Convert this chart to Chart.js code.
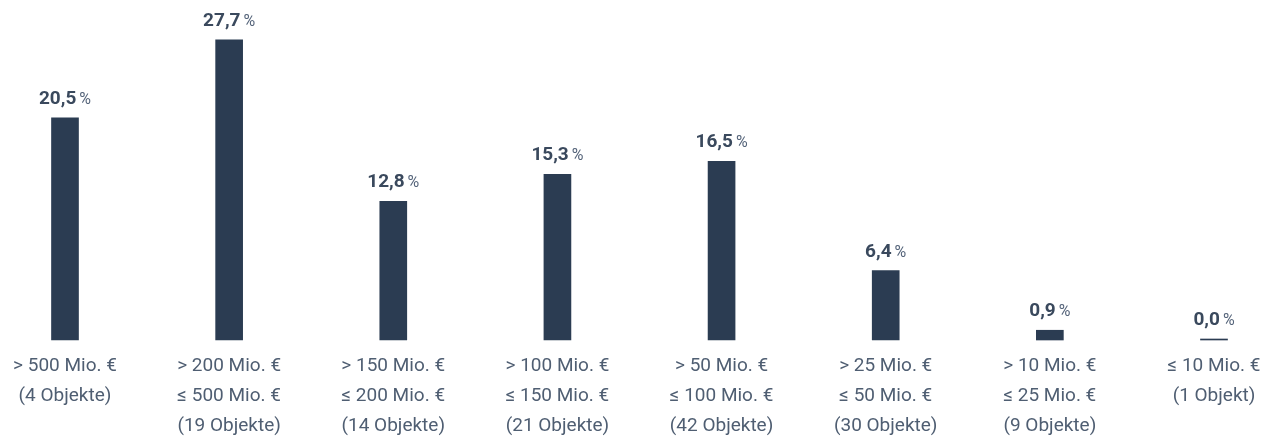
<!DOCTYPE html>
<html>
<head>
<meta charset="utf-8">
<script src="https://cdn.jsdelivr.net/npm/chart.js@4/dist/chart.umd.min.js"></script>
<style>
  html, body { margin: 0; padding: 0; background: #ffffff; }
  #wrap { position: relative; width: 1265px; height: 436px; }
</style>
</head>
<body>
<div id="wrap"><canvas id="volume-chart"></canvas></div>
<script>
const categories = [
    ["> 500 Mio. €", "(4 Objekte)"],
    ["> 200 Mio. €", "≤ 500 Mio. €", "(19 Objekte)"],
    ["> 150 Mio. €", "≤ 200 Mio. €", "(14 Objekte)"],
    ["> 100 Mio. €", "≤ 150 Mio. €", "(21 Objekte)"],
    ["> 50 Mio. €", "≤ 100 Mio. €", "(42 Objekte)"],
    ["> 25 Mio. €", "≤ 50 Mio. €", "(30 Objekte)"],
    ["> 10 Mio. €", "≤ 25 Mio. €", "(9 Objekte)"],
    ["≤ 10 Mio. €", "(1 Objekt)"]
];
const shares = [20.5, 27.7, 12.8, 15.3, 16.5, 6.4, 0.9, 0.0];

const barColor = "#2b3c52";
const valueColor = "#3a495d";
const percentColor = "#55647a";
const labelColor = "#4f5e72";

function formatValue(v) {
    return v.toFixed(1).replace(".", ",");
}

// draws "20,5 %" above each bar, number bold and percent sign smaller
const valueLabels = {
    id: "valueLabels",
    afterDatasetsDraw(chart) {
        const ctx = chart.ctx;
        const meta = chart.getDatasetMeta(0);
        ctx.save();
        ctx.textBaseline = "alphabetic";
        ctx.textAlign = "left";
        meta.data.forEach((bar, i) => {
            const num = formatValue(shares[i]);
            ctx.font = "bold 19px Roboto";
            const numWidth = ctx.measureText(num).width;
            ctx.font = "16px Roboto";
            const pctWidth = ctx.measureText("%").width;
            const gap = 3;
            const total = numWidth + gap + pctWidth;
            const x = bar.x - total / 2;
            const y = bar.y - 14;
            ctx.font = "bold 19px Roboto";
            ctx.fillStyle = valueColor;
            ctx.fillText(num, x, y);
            ctx.font = "16px Roboto";
            ctx.fillStyle = percentColor;
            ctx.fillText("%", x + numWidth + gap, y);
        });
        ctx.restore();
    }
};

const ctxEl = document.getElementById("volume-chart");
new Chart(ctxEl, {
    type: "bar",
    data: {
        labels: categories,
        datasets: [{
            data: shares,
            backgroundColor: barColor,
            barThickness: 27,
            minBarLength: 1,
            clip: false
        }]
    },
    options: {
        responsive: true,
        maintainAspectRatio: false,
        animation: false,
        layout: {
            padding: { left: 65, right: 51, top: 15, bottom: 0 }
        },
        plugins: {
            legend: { display: false },
            tooltip: { enabled: false }
        },
        scales: {
            x: {
                offset: false,
                grid: { display: false },
                border: { display: false },
                ticks: {
                    autoSkip: false,
                    maxRotation: 0,
                    padding: 3,
                    color: labelColor,
                    font: { family: "Roboto", size: 19, lineHeight: "30px" }
                },
                afterFit(scale) {
                    scale.height = 96;
                }
            },
            y: {
                display: false,
                min: 0,
                max: 30
            }
        }
    },
    plugins: [valueLabels]
});
</script>
</body>
</html>
